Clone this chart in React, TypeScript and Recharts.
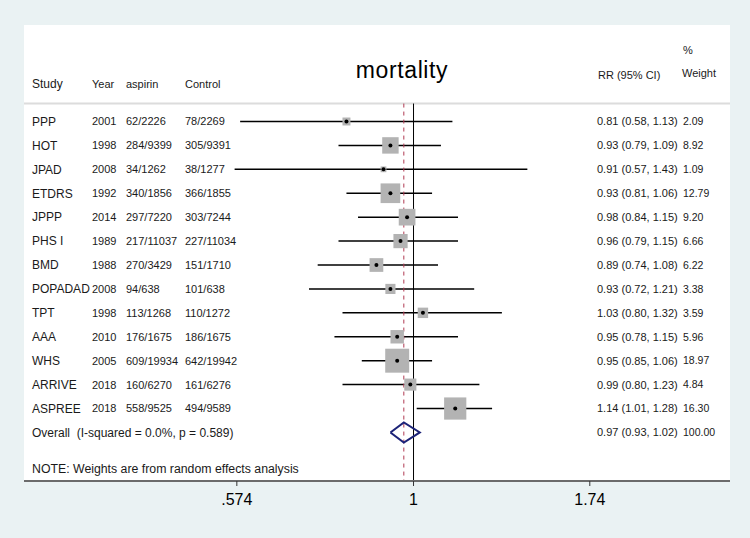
import { ComposedChart, XAxis, YAxis, Scatter, ReferenceLine, CartesianGrid } from "recharts"

const studies = ['PPP', 'HOT', 'JPAD', 'ETDRS', 'JPPP', 'PHS I', 'BMD', 'POPADAD', 'TPT', 'AAA', 'WHS', 'ARRIVE', 'ASPREE']
const years = [2001, 1998, 2008, 1992, 2014, 1989, 1988, 2008, 1998, 2010, 2005, 2018, 2018]
const aspirin = ['62/2226', '284/9399', '34/1262', '340/1856', '297/7220', '217/11037', '270/3429', '94/638', '113/1268', '176/1675', '609/19934', '160/6270', '558/9525']
const control = ['78/2269', '305/9391', '38/1277', '366/1855', '303/7244', '227/11034', '151/1710', '101/638', '110/1272', '186/1675', '642/19942', '161/6276', '494/9589']
const rr = [0.81, 0.93, 0.91, 0.93, 0.98, 0.96, 0.89, 0.93, 1.03, 0.95, 0.95, 0.99, 1.14]
const lo = [0.58, 0.79, 0.57, 0.81, 0.84, 0.79, 0.74, 0.72, 0.80, 0.78, 0.85, 0.80, 1.01]
const hi = [1.13, 1.09, 1.43, 1.06, 1.15, 1.15, 1.08, 1.21, 1.32, 1.15, 1.06, 1.23, 1.28]
const weights = [2.09, 8.92, 1.09, 12.79, 9.20, 6.66, 6.22, 3.38, 3.59, 5.96, 18.97, 4.84, 16.30]

const overall = { rr: 0.97, lo: 0.93, hi: 1.02, weight: 100.0, label: 'Overall\u00a0\u00a0(I-squared = 0.0%, p = 0.589)' }
const note = 'NOTE: Weights are from random effects analysis'
const xTicks = [0.574, 1, 1.74]

const FONT = "Arial, 'Liberation Sans', sans-serif"
const fmt = (v: number) => v.toFixed(2)

const rows = studies.map((s, i) => ({
  x: rr[i], y: i, study: s, year: years[i], asp: aspirin[i], ctl: control[i],
  lo: lo[i], hi: hi[i], w: weights[i],
}))

const overallRow = studies.length
const noteRow = overallRow + 1.53
const headerRow = -0.75

// diamond outline for the pooled estimate
const diamond = [
  { x: overall.lo, y: overallRow },
  { x: overall.rr, y: overallRow - 0.42 },
  { x: overall.hi, y: overallRow },
  { x: overall.rr, y: overallRow + 0.42 },
  { x: overall.lo, y: overallRow },
]

const labelRows = [
  ...rows.map(r => ({
    x: 1, y: r.y, cols: [r.study, String(r.year), r.asp, r.ctl], size: 12,
    est: `${fmt(r.x)} (${fmt(r.lo)}, ${fmt(r.hi)})`, w: fmt(r.w),
  })),
  { x: 1, y: overallRow, cols: [overall.label], size: 12, est: `${fmt(overall.rr)} (${fmt(overall.lo)}, ${fmt(overall.hi)})`, w: fmt(overall.weight) },
  { x: 1, y: noteRow, cols: [note], size: 12.3, est: '', w: '' },
]

const colX = [32, 92, 126, 185]

function Labels(props: any) {
  const { cy, payload } = props
  return (
    <g fontFamily={FONT} fill="#1a1a1a">
      {payload.cols.map((c: string, k: number) => (
        <text key={k} x={colX[k]} y={cy} dy="0.36em" fontSize={k === 0 ? payload.size : 11}>{c}</text>
      ))}
      {payload.est && <text x={597} y={cy} dy="0.36em" fontSize={11}>{payload.est}</text>}
      {payload.w && <text x={683} y={cy} dy="0.36em" fontSize={10.5}>{payload.w}</text>}
    </g>
  )
}

function Box(props: any) {
  const { cx, cy, payload } = props
  const s = 5.5 * Math.sqrt(payload.w)
  return <rect x={cx - s / 2} y={cy - s / 2} width={s} height={s} fill="#b3b3b3" />
}

function Dot(props: any) {
  return <circle cx={props.cx} cy={props.cy} r={2} fill="#000" />
}

export default function App() {
  return (
    <div style={{ position: 'absolute', left: 0, top: 0, width: 750, height: 538, background: '#eaf2f3' }}>
      <ComposedChart width={750} height={538} margin={{ top: 25, right: 20, left: 24, bottom: 27 }}>
        <CartesianGrid horizontal={false} vertical={false} fill="#ffffff" />
        <XAxis
          type="number"
          dataKey="x"
          scale="log"
          domain={[0.2941, 2.703]}
          allowDataOverflow
          ticks={xTicks}
          tickFormatter={(v: number) => String(v).replace(/^0/, '')}
          height={30}
          tickSize={5}
          tickMargin={8}
          axisLine={{ stroke: '#6b6b6b', strokeWidth: 2 }}
          tickLine={{ stroke: '#333' }}
          tick={{ fill: '#000', fontSize: 16, fontFamily: FONT }}
        />
        <YAxis type="number" dataKey="y" domain={[-4.034, 15.03]} reversed hide allowDataOverflow />
        <ReferenceLine y={headerRow} stroke="#dcdcdc" strokeWidth={2} />
        <Scatter data={rows} shape={Box} isAnimationActive={false} />
        {rows.map(r => (
          <ReferenceLine key={r.study} segment={[{ x: r.lo, y: r.y }, { x: r.hi, y: r.y }]} stroke="#000" strokeWidth={1.5} />
        ))}
        <ReferenceLine segment={[{ x: overall.rr, y: headerRow }, { x: overall.rr, y: 15.03 }]} stroke="#b03a52" strokeDasharray="4 4" strokeWidth={1} />
        <ReferenceLine segment={[{ x: 1, y: headerRow }, { x: 1, y: 15.03 }]} stroke="#000" strokeWidth={1} />
        <Scatter data={rows} shape={Dot} isAnimationActive={false} />
        <Scatter data={diamond} line={{ stroke: '#1c2378', strokeWidth: 2 }} shape={() => null} isAnimationActive={false} />
        <Scatter data={labelRows} shape={Labels} isAnimationActive={false} />
      </ComposedChart>
      <svg width={750} height={538} style={{ position: 'absolute', left: 0, top: 0, pointerEvents: 'none' }}>
        <g fontFamily={FONT} fill="#1a1a1a" fontSize={11}>
          <text x={32} y={88} fontSize={12}>Study</text>
          <text x={92} y={88}>Year</text>
          <text x={126} y={88}>aspirin</text>
          <text x={185} y={88}>Control</text>
          <text x={598} y={79}>RR (95% CI)</text>
          <text x={683} y={54}>%</text>
          <text x={682} y={77}>Weight</text>
          <text x={402} y={78} fontSize={23} textAnchor="middle" fill="#000" letterSpacing={0.6}>mortality</text>
        </g>
      </svg>
    </div>
  )
}
